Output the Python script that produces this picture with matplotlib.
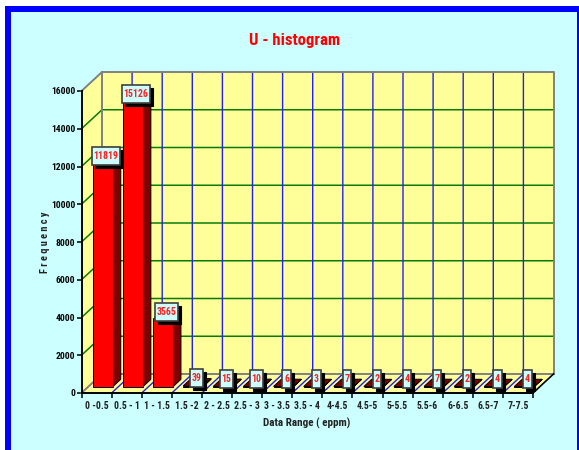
import matplotlib
matplotlib.use("Agg")
import matplotlib.pyplot as plt
from matplotlib.patches import Polygon, Rectangle

categories = ["0 -0.5", "0.5 - 1", "1 - 1.5", "1.5 -2", "2 - 2.5", "2.5 - 3", "3 - 3.5", "3.5 - 4",
              "4-4.5", "4.5-5", "5-5.5", "5.5-6", "6-6.5", "6.5-7", "7-7.5"]
counts = [11819, 15126, 3565, 39, 15, 10, 6, 3, 7, 2, 4, 7, 2, 4, 4]
y_ticks = [0, 2000, 4000, 6000, 8000, 10000, 12000, 14000, 16000]

W, H = 579, 450
FONT = ["Roboto Condensed", "Liberation Sans", "DejaVu Sans"]
CYAN = "#CCFFFF"
YELLOW = "#FFFF99"
BLUE = "#0000FF"
GREEN = "#0A7A0A"
WALL_EDGE = "#808080"

plt.rcParams["font.family"] = FONT

fig = plt.figure(figsize=(W / 100, H / 100), dpi=100, facecolor="white")


def page_rect(x0, y0, x1, y1, color, z):
    # rectangle in pixels from the top-left corner of the page
    fig.patches.append(Rectangle((x0 / W, 1 - y1 / H), (x1 - x0) / W, (y1 - y0) / H,
                                 transform=fig.transFigure, fc=color, ec="none", zorder=z))


# page frame
page_rect(5, 6, 578.5, H, BLUE, -5)
page_rect(11, 12, 577, H, CYAN, -4)

# axes rectangle is the front plane of the 3d box
left, right, top, bottom = 81.5, 533, 91, 393
ax = fig.add_axes([left / W, 1 - bottom / H, (right - left) / W, (bottom - top) / H])
ax.patch.set_alpha(0)
n = len(categories)
ax.set_xlim(0, n)
ax.set_ylim(0, 16000)

# depth of the box in data units
dx = 20.5 / ((right - left) / n)
dy = 19 / ((bottom - top) / 16000)

ax.add_patch(Polygon([(dx, dy), (n + dx, dy), (n + dx, 16000 + dy), (dx, 16000 + dy)], fc=YELLOW, ec="none", zorder=1, clip_on=False))
ax.add_patch(Polygon([(0, 0), (dx, dy), (dx, 16000 + dy), (0, 16000)], fc=YELLOW, ec="none", zorder=1, clip_on=False))
ax.add_patch(Polygon([(0, 0), (n, 0), (n + dx, dy), (dx, dy)], fc=YELLOW, ec="none", zorder=1, clip_on=False))

# grid on walls
for v in y_ticks[1:-1]:
    ax.plot([0, dx, n + dx], [v, v + dy, v + dy], color=GREEN, lw=1.1, zorder=2, clip_on=False)
for i in range(1, n):
    ax.plot([i, i + dx, i + dx], [0, dy, 16000 + dy], color="#2222EE", lw=1.0, zorder=2, clip_on=False)

# box edges
ax.plot([0, dx, dx], [16000, 16000 + dy, dy], color=WALL_EDGE, lw=1.4, zorder=2, clip_on=False)
ax.plot([dx, n + dx, n + dx], [16000 + dy, 16000 + dy, dy], color=WALL_EDGE, lw=1.4, zorder=2, clip_on=False)
ax.plot([0, dx, n + dx], [0, dy, dy], color=WALL_EDGE, lw=1.4, zorder=2, clip_on=False)
ax.plot([n, n + dx], [0, dy], color="black", lw=1.2, zorder=2, clip_on=False)

# bars
bar_w = 20 / ((right - left) / n)
bar_pad = 4.5 / ((right - left) / n)
d0, d1 = 0.34, 0.72
labels = []
for i, v in enumerate(counts):
    x0 = i + bar_pad + d0 * dx
    y0 = d0 * dy
    ox = (d1 - d0) * dx
    oy = (d1 - d0) * dy
    side = [(x0 + bar_w, y0), (x0 + bar_w + ox, y0 + oy), (x0 + bar_w + ox, y0 + oy + v), (x0 + bar_w, y0 + v)]
    cap = [(x0, y0 + v), (x0 + ox, y0 + oy + v), (x0 + bar_w + ox, y0 + oy + v), (x0 + bar_w, y0 + v)]
    ax.add_patch(Polygon(side, fc="#800000", ec="black", lw=0.7, zorder=3, clip_on=False))
    ax.add_patch(Polygon(cap, fc="#800000", ec="black", lw=0.7, zorder=3, clip_on=False))
    ax.bar(x0, v, width=bar_w, bottom=y0, align="edge", color="#FF0000", edgecolor="black", lw=0.7, zorder=3, clip_on=False)

    # value label, boxes are added below once the text size is known
    t = ax.annotate(str(v), (x0 + bar_w / 2, y0 + v), xytext=(3, 7.5), textcoords="offset pixels",
                    ha="center", va="center", fontsize=7, fontweight="bold", color="#FF2020",
                    zorder=6, annotation_clip=False)
    labels.append(t)

renderer = fig.canvas.get_renderer()
for t in labels:
    bb = t.get_window_extent(renderer)
    cx = (bb.x0 + bb.x1) / 2
    cy = (bb.y0 + bb.y1) / 2
    w = bb.width + 3.5
    box_h = 18
    shadow = Rectangle((cx - w / 2 + 3, cy - box_h / 2 - 3), w, box_h, transform=None, fc="black", ec="black", lw=0.8, zorder=5, clip_on=False)
    box = Rectangle((cx - w / 2, cy - box_h / 2), w, box_h, transform=None, fc=CYAN, ec="#404040", lw=1.2, zorder=5.5, clip_on=False)
    ax.add_artist(shadow)
    ax.add_artist(box)

# axes
for s in ["top", "right"]:
    ax.spines[s].set_visible(False)
for s in ["left", "bottom"]:
    ax.spines[s].set_linewidth(1.4)
    ax.spines[s].set_zorder(6)
ax.set_yticks(y_ticks)
ax.set_yticklabels([str(v) for v in y_ticks], fontsize=6.8, fontweight="bold")
ax.set_xticks(range(n + 1))
ax.set_xticklabels([])
ax.set_xticks([i + 0.5 for i in range(n)], minor=True)
ax.set_xticklabels(categories, minor=True, fontsize=7, fontweight="bold", color="#222222")
ax.tick_params(axis="x", which="minor", length=0, pad=6)
ax.tick_params(axis="both", which="major", length=3.5, width=1.1)
ax.tick_params(axis="y", pad=1)

fig.text(294.5 / W, 1 - 40 / H, "U - histogram", color="#FF0000", fontsize=12, fontweight="bold", ha="center", va="center")
fig.text(307 / W, 1 - 423 / H, "Data Range ( eppm)", color="#222222", fontsize=8, fontweight="bold", ha="center", va="center")
fig.text(45 / W, 1 - 242 / H, "F r e q u e n c y", color="#222222", fontsize=7.4, fontweight="bold", rotation=90, ha="center", va="center")

fig.savefig("out.png", dpi=100)
